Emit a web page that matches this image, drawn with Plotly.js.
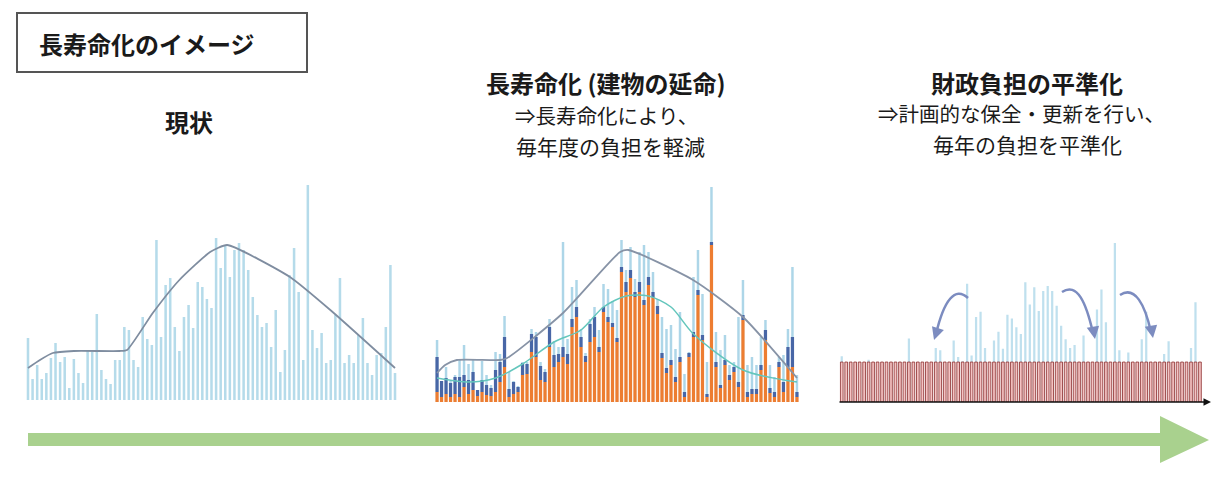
<!DOCTYPE html>
<html><head><meta charset="utf-8">
<script src="https://cdn.plot.ly/plotly-3.0.1.min.js"></script>
<style>html,body{margin:0;padding:0;background:#fff}#chart{width:1213px;height:502px}</style>
</head><body><div id="chart"></div>
<script>
// ---- data ----
const currentCost = [62,21,35,21,27,42,57,38,43,12,41,27,17,50,48,86,30,21,16,40,
  40,73,70,40,33,83,61,55,160,63,115,122,73,49,83,95,72,118,113,101,
  92,162,132,155,123,150,157,150,130,103,85,73,77,53,90,28,50,125,152,108,
  40,215,70,52,67,37,40,85,122,37,45,37,65,82,37,25,45,47,73,135,27];
const extendedOrange = [10,5,8,5,8,5,15,8,12,6,10,7,6,10,20,35,5,8,10,27,
  28,50,45,22,20,55,35,40,45,38,75,85,55,40,60,65,50,90,80,75,
  60,130,110,124,105,110,97,117,105,88,44,29,37,20,40,5,45,65,107,62,
  5,157,35,14,37,22,30,15,82,5,8,8,32,62,9,5,35,10,35,35,5];
const extendedBlue = [35,16,16,14,17,20,12,14,18,6,12,10,8,22,20,30,8,12,5,12,
  10,18,20,14,10,20,12,8,10,10,8,10,10,6,18,20,5,5,5,4,
  4,5,10,8,5,10,5,8,5,8,5,5,5,5,5,5,4,5,5,5,
  3,3,5,3,5,5,5,5,5,5,5,5,5,10,5,5,5,10,20,30,5];
const levelValue = 54;
const curve1X = [1,3.6,6.4,11,21,22.6,28.2,34,40.7,44.4,58.1,67.4,81];
const curve1Y = [32,40,47,49,49,50,87,120,148,155,123,88,32];
const curve2X = [1,2.8,5.4,15,16.6,29,41.7,43.5,57.9,69,79.9,81];
const curve2Y = [29,37,42,42,44,89,150,152,122,85,30,24];
const curve3X = [1,8,14,20,27,33,38,43,48,53,58,69,81];
const curve3Y = [24,20,24,38,60,72,95,106,106,95,68,32,20];
const panelTitles = ['現状','長寿命化 (建物の延命)','財政負担の平準化'];
const panel2Sub = ['⇒長寿命化により、','毎年度の負担を軽減'];
const panel3Sub = ['⇒計画的な保全・更新を行い、','毎年の負担を平準化'];
const headerText = '長寿命化のイメージ';

// ---- helpers ----
const W = 1213, H = 502;
const px = x => x / W, py = y => 1 - y / H;
const idx = currentCost.map((_, i) => i + 1);
const FONT = '"Noto Sans CJK JP", "Noto Sans", sans-serif';
const LB = '#b5dbea';

const traces = [
  {type:'bar', x:idx, y:currentCost, xaxis:'x', yaxis:'y', width:0.55, marker:{color:LB}},
  {type:'scatter', mode:'lines', x:curve1X, y:curve1Y, xaxis:'x', yaxis:'y',
   line:{color:'#7f8da0', width:1.8, shape:'spline', smoothing:0.5}},

  {type:'bar', x:idx, y:currentCost, xaxis:'x2', yaxis:'y2', width:0.55, marker:{color:'#add6e8'}},
  {type:'bar', x:idx, y:extendedBlue, base:extendedOrange, xaxis:'x2', yaxis:'y2', width:0.72, marker:{color:'#4866a6'}},
  {type:'bar', x:idx, y:extendedOrange, xaxis:'x2', yaxis:'y2', width:0.72, marker:{color:'#ed7d31'}},
  {type:'scatter', mode:'lines', x:curve3X, y:curve3Y, xaxis:'x2', yaxis:'y2',
   line:{color:'#63c6bc', width:1.5, shape:'spline', smoothing:0.8}},
  {type:'scatter', mode:'lines', x:curve2X, y:curve2Y, xaxis:'x2', yaxis:'y2',
   line:{color:'#8793a6', width:1.8, shape:'spline', smoothing:0.6}},

  {type:'bar', x:idx, y:currentCost, xaxis:'x3', yaxis:'y3', width:0.5, marker:{color:'#bfe0ee'}},
  {type:'bar', x:idx, y:idx.map(() => levelValue), xaxis:'x3', yaxis:'y3', width:0.6,
   marker:{color:'#f4c4c4', line:{color:'#8a2a2a', width:0.8}}}
];

const hidden = {visible:false, fixedrange:true};
const layout = {
  width:W, height:H, margin:{l:0,r:0,t:0,b:0}, showlegend:false,
  paper_bgcolor:'#fff', plot_bgcolor:'rgba(0,0,0,0)', barmode:'overlay',
  xaxis:Object.assign({domain:[px(25.7), px(397.3)], range:[0.5,81.5]}, hidden),
  yaxis:Object.assign({domain:[py(400), py(170)], range:[0,230]}, hidden),
  xaxis2:Object.assign({domain:[px(434.8), px(799.2)], range:[0.5,81.5]}, hidden),
  yaxis2:Object.assign({domain:[py(402), py(172)], range:[0,230]}, hidden),
  xaxis3:Object.assign({domain:[px(839.5), px(1202.2)], range:[0.5,81.5]}, hidden),
  yaxis3:Object.assign({domain:[py(402), py(172)], range:[0,311]}, hidden),
  shapes:[
    {type:'rect', xref:'paper', yref:'paper', x0:px(17), x1:px(307), y0:py(72), y1:py(13),
     line:{color:'#555', width:2}, fillcolor:'rgba(0,0,0,0)'},
    {type:'line', xref:'paper', yref:'paper', x0:px(839.5), x1:px(1204), y0:py(402), y1:py(402),
     line:{color:'#111', width:1.5}},
    {type:'path', xref:'paper', yref:'paper', fillcolor:'#a9d18e', line:{width:0},
     path:`M ${px(28)} ${py(433)} L ${px(1160)} ${py(433)} L ${px(1160)} ${py(416)} L ${px(1209)} ${py(440)} L ${px(1160)} ${py(463)} L ${px(1160)} ${py(446)} L ${px(28)} ${py(446)} Z`},
    {type:'path', xref:'paper', yref:'paper', line:{color:'#7c8cc0', width:2.5},
     path:`M ${px(968)} ${py(298)} C ${px(955)} ${py(286)} ${px(944)} ${py(300)} ${px(936)} ${py(334)}`},
    {type:'path', xref:'paper', yref:'paper', line:{color:'#7c8cc0', width:2.5},
     path:`M ${px(1062)} ${py(292)} C ${px(1077)} ${py(282)} ${px(1086)} ${py(302)} ${px(1093)} ${py(333)}`},
    {type:'path', xref:'paper', yref:'paper', line:{color:'#7c8cc0', width:2.5},
     path:`M ${px(1120)} ${py(295)} C ${px(1135)} ${py(285)} ${px(1145)} ${py(305)} ${px(1151)} ${py(332)}`}
  ],
  annotations:[]
};
function txt(t, x, y, size, bold, anchor){
  layout.annotations.push({text: bold ? '<b>'+t+'</b>' : t, xref:'paper', yref:'paper',
    x:px(x), y:py(y), xanchor:anchor||'center', yanchor:'middle', showarrow:false,
    font:{family:FONT, size:size, color:'#1a1a1a'}});
}
function arrowHead(x, y, ax, ay, color, w){
  layout.annotations.push({text:'', xref:'paper', yref:'paper', x:px(x), y:py(y),
    ax:ax, ay:ay, showarrow:true, arrowhead:2, arrowsize:1, arrowwidth:w, arrowcolor:color});
}
txt(headerText, 37, 43, 24, true, 'left');
txt(panelTitles[0], 189, 121, 24, true);
txt(panelTitles[1], 606, 83, 24, true);
txt(panel2Sub[0], 607, 115, 20.5, false);
txt(panel2Sub[1], 610, 146, 21, false);
txt(panelTitles[2], 1027, 83, 24, true);
txt(panel3Sub[0], 1021, 113, 20.5, false);
txt(panel3Sub[1], 1027, 144, 21, false);
arrowHead(934, 340, 4, -12, '#7c8cc0', 2.5);
arrowHead(1095, 339, -2, -12, '#7c8cc0', 2.5);
arrowHead(1153, 338, -2, -12, '#7c8cc0', 2.5);
arrowHead(1211, 402, -8, 0, '#111', 1.5);

Plotly.newPlot('chart', traces, layout, {staticPlot:true, displayModeBar:false});
</script></body></html>
